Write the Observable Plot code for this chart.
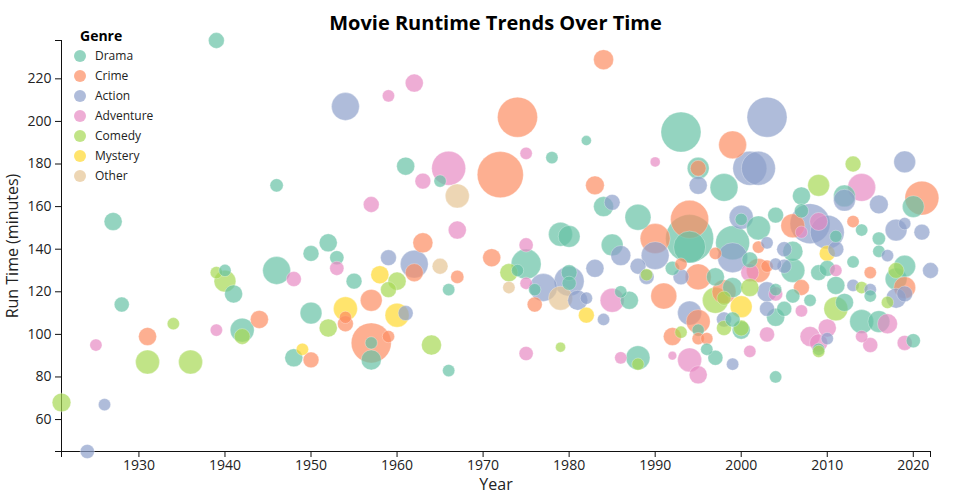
<!DOCTYPE html>
<html>
<head>
<meta charset="utf-8">
<script src="https://cdn.jsdelivr.net/npm/d3@7"></script>
<script src="https://cdn.jsdelivr.net/npm/@observablehq/plot@0.6"></script>
<style>
  body { margin: 0; background: #fff; font-family: "Open Sans", sans-serif; }
  #wrap { position: relative; width: 960px; height: 500px; }
  #title { position: absolute; left: 61px; width: 869px; top: 9px; text-align: center;
           font-weight: 700; font-size: 20px; line-height: 28px; color: #000; }
  #legend { position: absolute; left: 0; top: 0; font-size: 12px; color: #222; }
  #legend .lt { position: absolute; left: 80px; top: 26px; font-weight: 700; font-size: 14px; line-height: 20px; color: #000; }
  #legend .row { position: absolute; left: 74px; height: 20px; line-height: 20px; white-space: nowrap; }
  #legend .sw { position: absolute; left: 0; top: 4px; width: 12px; height: 12px; border-radius: 50%; opacity: 0.7; }
  #legend .tx { position: absolute; left: 21px; top: 0; }
  g[aria-label="x-axis tick label"] text, g[aria-label="y-axis tick label"] text { font-size: 14px; fill: #222; }
  g[aria-label="x-axis label"] text, g[aria-label="y-axis label"] text { font-size: 16px; fill: #222; }
</style>
</head>
<body>
<div id="wrap">
  <div id="chart"></div>
  <div id="title">Movie Runtime Trends Over Time</div>
  <div id="legend"></div>
</div>
<script>
// ---- data ----
const genreOrder = ["Drama", "Crime", "Action", "Adventure", "Comedy", "Mystery", "Other"];
const genreCode = {D: "Drama", C: "Crime", A: "Action", P: "Adventure", G: "Comedy", Y: "Mystery", O: "Other"};

const years = [
  1921,1924,1925,1926,1927,1928,1931,1931,1934,1936,
  1939,1939,1939,1940,1940,1941,1942,1942,1944,1946,
  1946,1948,1948,1949,1950,1950,1950,1952,1952,1953,
  1953,1954,1954,1954,1954,1955,1957,1957,1957,1957,
  1957,1958,1959,1959,1959,1959,1960,1960,1961,1961,
  1962,1962,1962,1963,1963,1964,1965,1965,1966,1966,
  1966,1967,1967,1967,1971,1972,1973,1973,1974,1974,
  1975,1975,1975,1975,1975,1976,1976,1977,1978,1979,
  1979,1979,1980,1980,1980,1980,1981,1982,1982,1982,
  1983,1983,1984,1984,1984,1985,1985,1985,1986,1986,
  1986,1987,1988,1988,1988,1988,1989,1989,1990,1990,
  1990,1991,1992,1992,1992,1993,1993,1993,1993,1994,
  1994,1994,1994,1994,1995,1995,1995,1995,1995,1995,
  1995,1995,1996,1996,1997,1997,1997,1997,1998,1998,
  1998,1998,1998,1999,1999,1999,1999,1999,1999,2000,
  2000,2000,2000,2000,2001,2001,2001,2001,2001,2002,
  2002,2002,2002,2003,2003,2003,2003,2003,2003,2004,
  2004,2004,2004,2004,2004,2005,2005,2005,2006,2006,
  2006,2006,2007,2007,2007,2007,2007,2008,2008,2008,
  2009,2009,2009,2009,2009,2009,2010,2010,2010,2010,
  2010,2011,2011,2011,2011,2011,2012,2012,2012,2013,
  2013,2013,2013,2014,2014,2014,2014,2014,2015,2015,
  2015,2015,2016,2016,2016,2016,2017,2017,2017,2018,
  2018,2018,2018,2019,2019,2019,2019,2019,2019,2020,
  2020,2021,2021,2022
];
const runtimes = [
  68,45,95,67,153,114,99,87,105,87,
  238,129,102,130,125,119,102,99,107,130,
  170,126,89,93,138,110,88,143,103,136,
  131,207,112,108,105,125,161,96,96,88,
  116,128,212,136,121,99,125,109,179,110,
  218,133,129,172,143,95,172,132,178,121,
  83,165,149,127,136,175,129,122,202,130,
  185,142,133,124,91,121,114,122,183,147,
  117,94,146,125,129,124,116,191,117,109,
  170,131,229,160,107,162,142,116,137,120,
  89,116,155,132,89,86,127,128,181,145,
  137,118,131,99,90,195,133,127,101,154,
  145,141,110,88,178,178,170,127,106,102,
  98,81,98,93,138,127,116,89,169,120,
  117,107,103,189,143,136,122,107,86,155,
  154,113,102,103,178,135,129,122,92,178,
  150,141,130,202,143,132,120,112,100,156,
  133,121,119,108,80,140,132,112,151,139,
  130,118,165,158,148,122,111,152,116,99,
  170,153,129,96,93,92,148,138,131,103,
  98,146,140,130,123,112,165,163,115,180,
  153,134,123,169,149,122,106,99,129,121,
  118,95,161,145,139,106,137,115,105,149,
  130,126,117,181,152,132,122,119,96,160,
  97,164,148,130
];
const genres = [
  "G","A","P","A","D","D","C","G","G","G",
  "D","G","P","D","G","D","D","G","C","D",
  "D","P","D","Y","D","D","C","D","G","D",
  "P","A","Y","C","C","D","P","C","D","D",
  "C","Y","P","A","G","C","G","Y","D","A",
  "P","A","C","P","C","G","D","O","P","D",
  "D","O","P","C","C","C","G","O","C","D",
  "P","P","D","P","P","D","C","A","D","D",
  "O","G","D","A","D","D","A","D","A","Y",
  "C","A","C","D","A","A","D","P","A","D",
  "P","D","D","A","D","G","A","G","P","C",
  "A","C","D","C","P","D","C","A","G","C",
  "D","D","A","P","D","C","A","C","C","D",
  "C","P","C","D","C","D","G","D","D","C",
  "G","A","G","C","D","A","D","D","A","A",
  "D","Y","D","G","A","D","P","G","P","A",
  "D","C","C","A","A","C","A","A","P","D",
  "A","D","P","D","D","A","A","D","C","D",
  "D","D","D","D","P","C","P","A","D","P",
  "G","P","D","P","D","G","A","Y","D","P",
  "A","D","A","P","D","G","D","A","D","G",
  "C","D","A","P","D","G","D","P","C","A",
  "D","P","A","D","D","D","A","G","P","A",
  "G","D","A","A","A","D","C","A","P","D",
  "D","C","A","A"
];
// bubble size variable (relative popularity, 0-100)
const popularity = [
  14,8,6,6,13,9,13,23,6,23,
  10,6,6,6,19,13,23,10,13,31,
  7,9,13,6,10,19,10,13,13,8,
  8,31,23,6,10,10,10,64,6,16,
  19,13,6,10,10,6,13,23,13,9,
  13,31,13,10,16,16,6,10,46,6,
  6,23,13,7,13,85,13,6,64,6,
  6,8,36,6,8,6,9,31,6,23,
  23,4,19,36,10,8,16,4,6,10,
  14,13,16,16,6,10,19,23,16,6,
  6,13,27,10,23,6,9,6,4,36,
  31,27,8,13,3,64,6,10,6,58,
  92,41,23,23,19,10,13,27,23,6,
  6,13,6,6,6,13,27,9,31,23,
  8,9,9,31,46,36,16,9,6,23,
  6,19,13,10,46,10,13,13,6,46,
  23,6,23,64,6,6,16,9,9,10,
  6,6,8,13,6,9,8,9,23,16,
  23,8,13,8,6,10,6,64,6,16,
  19,13,10,13,6,6,46,10,10,13,
  6,6,10,6,13,23,19,19,13,10,
  6,6,6,31,6,6,23,6,6,6,
  6,9,14,7,6,19,6,6,16,19,
  10,19,16,19,6,19,19,10,9,19,
  8,46,10,10
];
const xTicks = [1930, 1940, 1950, 1960, 1970, 1980, 1990, 2000, 2010, 2020];
const yTicks = [60, 80, 100, 120, 140, 160, 180, 200, 220];

// ---- build table ----
const movies = years.map((y, i) => ({
  year: y, runtime: runtimes[i], genre: genreCode[genres[i]], popularity: popularity[i]
})).sort((a, b) => b.popularity - a.popularity);

const chart = Plot.plot({
  width: 960, height: 500,
  marginLeft: 61, marginRight: 30, marginTop: 40, marginBottom: 49,
  style: {fontFamily: "'Open Sans', sans-serif", fontSize: "14px", color: "#111", background: "transparent", overflow: "visible"},
  x: {domain: d3.extent(years)},
  y: {domain: d3.extent(runtimes)},
  r: {domain: [0, 100], range: [0, 25]},
  color: {domain: genreOrder, scheme: "set2"},
  marks: [
    Plot.frame({anchor: "left"}),
    Plot.frame({anchor: "bottom"}),
    Plot.axisX({ticks: xTicks, tickFormat: d => String(d), tickSize: 6, tickPadding: 3,
                label: "Year", labelAnchor: "center", labelArrow: "none", labelOffset: 38}),
    Plot.axisX({ticks: d3.extent(years), tickFormat: () => "", tickSize: 6, label: null}),
    Plot.axisY({ticks: yTicks, tickSize: 6, tickPadding: 4,
                label: "Run Time (minutes)", labelAnchor: "center", labelArrow: "none", labelOffset: 55}),
    Plot.axisY({ticks: d3.extent(runtimes), tickFormat: () => "", tickSize: 6, label: null}),
    Plot.dot(movies, {x: "year", y: "runtime", r: "popularity", fill: "genre",
                      fillOpacity: 0.7, stroke: "white", strokeOpacity: 0.6, strokeWidth: 0.5})
  ]
});
document.getElementById("chart").appendChild(chart);

// ---- legend ----
const color = chart.scale("color");
const lg = d3.select("#legend");
lg.append("div").attr("class", "lt").text("Genre");
genreOrder.forEach((g, i) => {
  const row = lg.append("div").attr("class", "row").style("top", (46 + 20 * i) + "px");
  row.append("div").attr("class", "sw").style("background", color.apply(g));
  row.append("div").attr("class", "tx").text(g);
});
</script>
</body>
</html>
